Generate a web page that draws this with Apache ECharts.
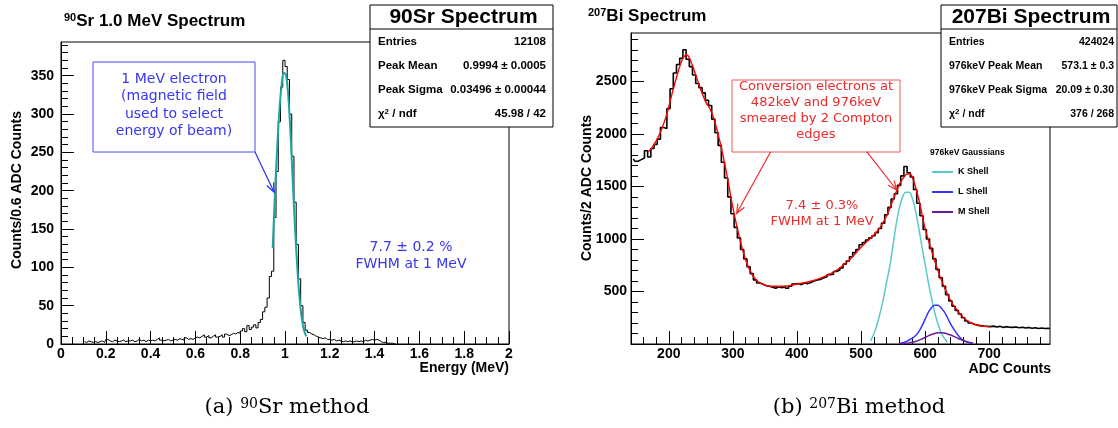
<!DOCTYPE html>
<html><head><meta charset="utf-8">
<script src="https://cdn.jsdelivr.net/npm/echarts@6/dist/echarts.min.js"></script>
<style>html,body{margin:0;padding:0;background:#fff}#c{width:1118px;height:428px}</style>
</head><body><div id="c"></div>
<script>
// ---------- 90Sr panel data ----------
const srStart = 0.10, srWidth = 0.01;
const srCounts = [
 3,2,4,3,2,3,2,3,4,2,
 6,4,3,5,4,3,4,5,3,4,
 4,5,3,4,6,4,5,3,5,4,
 5,4,6,8,5,4,5,6,4,5,
 6,5,7,6,5,8,6,7,6,8,
 9,8,10,12,9,11,8,10,12,9,
 10,12,9,13,11,12,14,13,15,14,
 17,20,16,24,19,22,25,21,28,32,
 42,48,60,88,95,165,225,290,335,370,
 362,345,300,245,185,130,85,50,28,18,
 15,13,12,10,9,8,7,8,6,6,
 5,6,4,5,4,3,4,3,4,3,
 3,4,3,4,3,5,4,5,6,5,
 6,5,3,2,2,1,1,1,0,0
];
const srFitE = [0.945,0.955,0.965,0.975,0.985,0.995,1.005,1.015,1.025,1.035,1.045,1.055,1.065,1.075,1.085,1.095];
const srFitV = [125,195,255,305,338,354,350,322,272,210,150,100,60,33,18,10];
const srXTicks = [0,0.2,0.4,0.6,0.8,1,1.2,1.4,1.6,1.8,2];
const srYTicks = [0,50,100,150,200,250,300,350];

// ---------- 207Bi panel data ----------
const biStart = 142, biWidth = 5;
const biCounts = [
 1760,1740,1755,1770,1840,1780,1860,1900,1950,2060,
 2050,2240,2430,2580,2660,2720,2800,2710,2640,2560,
 2480,2440,2390,2320,2270,2140,2010,1890,1730,1580,
 1400,1240,1110,1010,900,810,735,670,610,580,
 570,555,550,540,530,545,535,550,530,550,
 570,575,565,580,575,585,600,610,615,630,
 640,660,665,690,705,725,760,790,830,870,
 900,945,965,990,1010,1030,1060,1100,1150,1230,
 1300,1380,1430,1510,1600,1690,1630,1590,1470,1340,
 1220,1090,1000,910,810,710,630,550,470,410,
 360,320,285,250,220,200,188,180,175,170,
 168,165,170,162,168,158,165,160,158,162,
 155,160,152,158,150,155,148,152,148,150,
 145
];
const biFitX = [168,175,185,195,205,215,222,228,235,242,250,258,265,272,280,290,300,310,320,330,340,350,360,380,400,420,440,460,480,500,520,530,540,550,560,570,575,580,590,600,610,620,630,640,650,660,670,680,690,700];
const biFitY = [1830,1880,1990,2150,2380,2600,2720,2750,2680,2560,2420,2300,2230,2110,1920,1630,1300,1020,800,660,590,560,550,550,570,595,635,695,790,920,1040,1110,1220,1370,1520,1610,1620,1590,1380,1100,890,700,540,410,320,250,205,180,170,165];
const kX = [515,520,525,530,535,540,545,550,555,560,565,570,575,580,585,590,595,600,605,610,615,620,625,630,635];
const kY = [30,95,185,300,430,590,740,940,1140,1300,1400,1445,1445,1390,1270,1110,930,760,590,440,300,195,110,55,20];
const lX = [560,565,570,575,580,585,590,595,600,605,610,615,620,625,630,635,640,645,650,655,660,665,670,675];
const lY = [5,12,22,38,55,78,115,170,235,300,345,368,368,345,305,250,190,140,95,60,35,20,10,4];
const mX = [560,565,570,575,580,585,590,595,600,605,610,615,620,625,630,635,640,645,650,655,660,665,670,675];
const mY = [2,3,6,10,16,24,35,48,62,77,90,100,106,108,104,96,85,72,58,44,32,22,14,8];
const biXTicks = [200,300,400,500,600,700];
const biYTicks = [500,1000,1500,2000,2500];

// ---------- helpers ----------
function minors(step, lo, hi, major) {
  const out = [];
  for (let k = Math.ceil(lo / step - 1e-9); k * step <= hi + 1e-9; k++) {
    const v = +(k * step).toFixed(6);
    if (Math.abs(v / major - Math.round(v / major)) > 1e-6) out.push(v);
  }
  return out;
}
function hist(start, width, counts) {
  return counts.map((c, i) => [+(start + (i + 0.5) * width).toFixed(5), c]);
}
function pairs(xs, ys) { return xs.map((x, i) => [x, ys[i]]); }

const FONT = 'Liberation Sans';
const lblStyle = {color: '#000', fontWeight: 'bold', fontSize: 14, fontFamily: FONT};

function majorAxis(grid, min, max, ticks, isX, margin) {
  return {
    type: 'value', gridIndex: grid, min: min, max: max,
    position: isX ? 'bottom' : 'left', offset: 0,
    axisLine: {show: true, lineStyle: {color: '#000', width: 1}},
    axisTick: {show: true, inside: true, length: 13, customValues: ticks, lineStyle: {color: '#000', width: 1}},
    axisLabel: Object.assign({show: true, customValues: ticks, margin: margin, formatter: function (v) { return String(v); }}, lblStyle),
    splitLine: {show: false}
  };
}
function minorAxis(grid, min, max, ticks, isX) {
  return {
    type: 'value', gridIndex: grid, min: min, max: max,
    position: isX ? 'bottom' : 'left', offset: 0,
    axisLine: {show: false},
    axisTick: {show: true, inside: true, length: 7, customValues: ticks, lineStyle: {color: '#000', width: 1}},
    axisLabel: {show: false},
    splitLine: {show: false}
  };
}
function arrow(x1, y1, x2, y2, color, size) {
  const dx = x2 - x1, dy = y2 - y1, L = Math.hypot(dx, dy), ux = dx / L, uy = dy / L;
  const bx = x2 - ux * size, by = y2 - uy * size, px = -uy * size * 0.42, py = ux * size * 0.42;
  return [
    {type: 'line', z: 100, shape: {x1: x1, y1: y1, x2: x2, y2: y2}, style: {stroke: color, lineWidth: 1.2}},
    {type: 'polyline', z: 100, shape: {points: [[bx + px, by + py], [x2, y2], [bx - px, by - py]]}, style: {stroke: color, fill: null, lineWidth: 1.2}}
  ];
}
function statsBox(x, w, title, rows, fs, padR) {
  const rowFont = {fontSize: fs, fontWeight: 'bold', fontFamily: FONT, fill: '#000'};
  const els = [
    {type: 'rect', z: 100, shape: {x: x, y: 5, width: w, height: 122}, style: {fill: '#fff', stroke: '#000', lineWidth: 1}},
    {type: 'line', z: 101, shape: {x1: x, y1: 29, x2: x + w, y2: 29}, style: {stroke: '#000', lineWidth: 1}},
    {type: 'text', z: 101, x: x + w / 2 + 2, y: 17, style: {text: title, fontSize: 21, fontWeight: 'bold', fontFamily: FONT, fill: '#000', align: 'center', verticalAlign: 'middle'}}
  ];
  const ys = [42, 66, 90, 114];
  rows.forEach((r, i) => {
    els.push({type: 'text', z: 101, x: x + 8, y: ys[i], style: Object.assign({text: r[0], align: 'left', verticalAlign: 'middle',
      rich: {s: {fontSize: 8, fontWeight: 'bold', fontFamily: FONT, verticalAlign: 'top', padding: [0, 0, 5, 0]}, n: {fontSize: fs, fontWeight: 'bold', fontFamily: FONT}}}, rowFont)});
    els.push({type: 'text', z: 101, x: x + w - padR, y: ys[i], style: Object.assign({text: r[1], align: 'right', verticalAlign: 'middle'}, rowFont)});
  });
  return els;
}
const supRich = function (big, small) {
  return {
    s: {fontSize: small, fontWeight: 'bold', fontFamily: FONT, fill: '#000', verticalAlign: 'top', padding: [0, 0, big - small, 0]},
    t: {fontSize: big, fontWeight: 'bold', fontFamily: FONT, fill: '#000'}
  };
};

const BLUE = '#3636f2', RED = '#ec2a2a';

const graphics = [].concat(
  [{type: 'text', z: 100, x: 64, y: 21, style: {text: '{s|90}{t|Sr 1.0 MeV Spectrum}', rich: supRich(17, 11), verticalAlign: 'middle', align: 'left'}},
   {type: 'text', z: 100, x: 588, y: 16, style: {text: '{s|207}{t|Bi Spectrum}', rich: supRich(17, 11), verticalAlign: 'middle', align: 'left'}}],
  [{type: 'text', z: 100, x: 509, y: 368, style: {text: 'Energy (MeV)', fontSize: 14, fontWeight: 'bold', fontFamily: FONT, fill: '#000', align: 'right', verticalAlign: 'middle'}},
   {type: 'text', z: 100, x: 1051, y: 369, style: {text: 'ADC Counts', fontSize: 14, fontWeight: 'bold', fontFamily: FONT, fill: '#000', align: 'right', verticalAlign: 'middle'}},
   {type: 'text', z: 100, x: 17, y: 190, rotation: Math.PI / 2, style: {text: 'Counts/0.6 ADC Counts', fontSize: 14, fontWeight: 'bold', fontFamily: FONT, fill: '#000', align: 'center', verticalAlign: 'middle'}},
   {type: 'text', z: 100, x: 587, y: 188, rotation: Math.PI / 2, style: {text: 'Counts/2 ADC Counts', fontSize: 14, fontWeight: 'bold', fontFamily: FONT, fill: '#000', align: 'center', verticalAlign: 'middle'}}],
  statsBox(370, 183, '90Sr Spectrum', [['Entries', '12108'], ['Peak Mean', '0.9994 ± 0.0005'], ['Peak Sigma', '0.03496 ± 0.00044'], ['{n|χ}{s|2}{n| / ndf}', '45.98 / 42']], 11.5, 7),
  statsBox(941, 176, '207Bi Spectrum', [['Entries', '424024'], ['976keV Peak Mean', '573.1 ± 0.3'], ['976keV Peak Sigma', '20.09 ± 0.30'], ['{n|χ}{s|2}{n| / ndf}', '376 / 268']], 10.5, 3),
  [{type: 'rect', z: 100, shape: {x: 93, y: 62, width: 162, height: 90}, style: {fill: '#fff', stroke: '#4a4aff', lineWidth: 1}},
   {type: 'text', z: 101, x: 174, y: 105.5, style: {text: '1 MeV electron\n(magnetic field\nused to select\nenergy of beam)', fontSize: 14, fontFamily: 'DejaVu Sans', fill: BLUE, align: 'center', verticalAlign: 'middle', lineHeight: 17.5}},
   {type: 'text', z: 101, x: 411, y: 255.5, style: {text: '7.7 ± 0.2 %\nFWHM at 1 MeV', fontSize: 14, fontFamily: 'DejaVu Sans', fill: BLUE, align: 'center', verticalAlign: 'middle', lineHeight: 17}}],
  arrow(255, 152, 274, 192, '#2b2bf5', 9),
  [{type: 'rect', z: 100, shape: {x: 732, y: 80, width: 168, height: 72}, style: {fill: '#fff', stroke: '#ee5a5a', lineWidth: 1}},
   {type: 'text', z: 101, x: 816, y: 111, style: {text: 'Conversion electrons at\n482keV and 976keV\nsmeared by 2 Compton\nedges', fontSize: 13, fontFamily: 'DejaVu Sans', fill: RED, align: 'center', verticalAlign: 'middle', lineHeight: 16}},
   {type: 'text', z: 101, x: 822, y: 214, style: {text: '7.4 ± 0.3%\nFWHM at 1 MeV', fontSize: 13, fontFamily: 'DejaVu Sans', fill: RED, align: 'center', verticalAlign: 'middle', lineHeight: 16}},
   {type: 'text', z: 101, x: 930, y: 153, style: {text: '976keV Gaussians', fontSize: 8.5, fontWeight: 'bold', fontFamily: FONT, fill: '#000', align: 'left', verticalAlign: 'middle'}}],
  arrow(770.7, 151.7, 736.7, 213.3, '#ee2b2b', 9),
  arrow(866.7, 151.7, 896.7, 190, '#ee2b2b', 9),
  [{type: 'text', z: 100, x: 287, y: 408, style: {text: '{t|(a) }{s|90}{t|Sr method}', align: 'center', verticalAlign: 'middle',
     rich: {t: {fontSize: 21, fontFamily: 'DejaVu Serif', fill: '#000'}, s: {fontSize: 14, fontFamily: 'DejaVu Serif', fill: '#000', verticalAlign: 'top', padding: [0, 0, 8, 0]}}}},
   {type: 'text', z: 100, x: 859, y: 408, style: {text: '{t|(b) }{s|207}{t|Bi method}', align: 'center', verticalAlign: 'middle',
     rich: {t: {fontSize: 21, fontFamily: 'DejaVu Serif', fill: '#000'}, s: {fontSize: 14, fontFamily: 'DejaVu Serif', fill: '#000', verticalAlign: 'top', padding: [0, 0, 8, 0]}}}}]
);

const SR_XMIN = 0, SR_XMAX = 2, SR_YMAX = 394;
const BI_XMIN = 141, BI_XMAX = 795, BI_YMAX = 2960;

const chart = echarts.init(document.getElementById('c'), null, {renderer: 'canvas'});
chart.setOption({
  animation: false,
  backgroundColor: '#fff',
  grid: [
    {left: 61, top: 42, right: 609, bottom: 84, show: true, borderColor: '#000', borderWidth: 1, backgroundColor: 'transparent'},
    {left: 631, top: 33, right: 68, bottom: 84, show: true, borderColor: '#000', borderWidth: 1, backgroundColor: 'transparent'}
  ],
  xAxis: [
    majorAxis(0, SR_XMIN, SR_XMAX, srXTicks, true, 3),
    minorAxis(0, SR_XMIN, SR_XMAX, minors(0.05, SR_XMIN, SR_XMAX, 0.2), true),
    majorAxis(1, BI_XMIN, BI_XMAX, biXTicks, true, 3),
    minorAxis(1, BI_XMIN, BI_XMAX, minors(20, BI_XMIN, BI_XMAX, 100), true)
  ],
  yAxis: [
    majorAxis(0, 0, SR_YMAX, srYTicks, false, 7),
    minorAxis(0, 0, SR_YMAX, minors(10, 0, SR_YMAX, 50), false),
    majorAxis(1, 0, BI_YMAX, biYTicks, false, 4),
    minorAxis(1, 0, BI_YMAX, minors(100, 0, BI_YMAX, 500), false)
  ],
  legend: {
    data: ['K Shell', 'L Shell', 'M Shell'], orient: 'vertical', left: 932, top: 167.5, padding: 0,
    itemWidth: 21, itemHeight: 2, itemGap: 11, icon: 'rect', selectedMode: false,
    textStyle: {fontSize: 9, fontWeight: 'bold', fontFamily: FONT, color: '#000'}
  },
  graphic: {elements: graphics},
  series: [
    {type: 'line', name: 'Sr data', xAxisIndex: 0, yAxisIndex: 0, data: hist(srStart, srWidth, srCounts), step: 'middle', symbol: 'none', silent: true, lineStyle: {color: '#000', width: 1}, z: 2},
    {type: 'line', name: 'Sr fit', xAxisIndex: 0, yAxisIndex: 0, data: pairs(srFitE, srFitV), smooth: 0.4, symbol: 'none', silent: true, lineStyle: {color: '#1fa3a3', width: 2}, z: 3},
    {type: 'line', name: 'Bi data', xAxisIndex: 2, yAxisIndex: 2, data: hist(biStart, biWidth, biCounts), step: 'middle', symbol: 'none', silent: true, lineStyle: {color: '#000', width: 1.6}, z: 2},
    {type: 'line', name: 'Bi fit', xAxisIndex: 2, yAxisIndex: 2, data: pairs(biFitX, biFitY), smooth: 0.4, symbol: 'none', silent: true, lineStyle: {color: '#ff0000', width: 1.4}, z: 3},
    {type: 'line', name: 'K Shell', xAxisIndex: 2, yAxisIndex: 2, data: pairs(kX, kY), smooth: 0.4, symbol: 'none', silent: true, color: '#5ccaca', lineStyle: {color: '#5ccaca', width: 1.5}, itemStyle: {color: '#5ccaca'}, z: 4},
    {type: 'line', name: 'L Shell', xAxisIndex: 2, yAxisIndex: 2, data: pairs(lX, lY), smooth: 0.4, symbol: 'none', silent: true, color: '#3535ff', lineStyle: {color: '#3535ff', width: 1.5}, itemStyle: {color: '#3535ff'}, z: 4},
    {type: 'line', name: 'M Shell', xAxisIndex: 2, yAxisIndex: 2, data: pairs(mX, mY), smooth: 0.4, symbol: 'none', silent: true, color: '#6a1b9a', lineStyle: {color: '#6a1b9a', width: 1.5}, itemStyle: {color: '#6a1b9a'}, z: 4}
  ]
});
</script></body></html>
